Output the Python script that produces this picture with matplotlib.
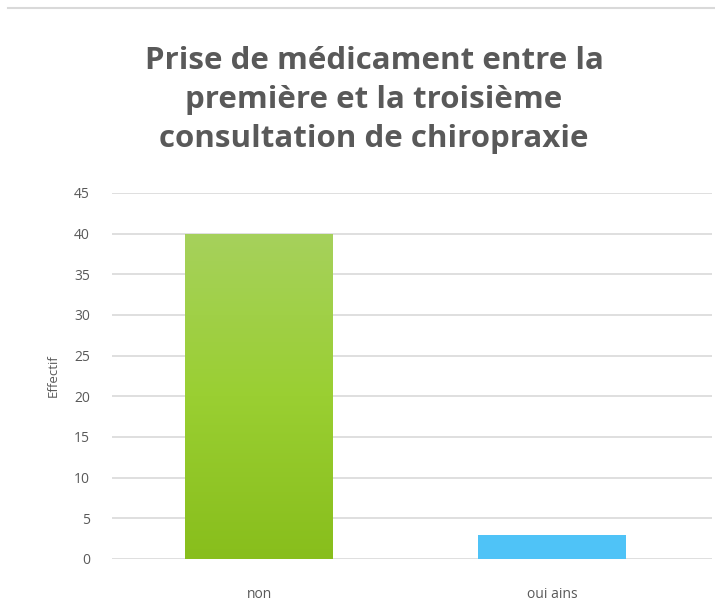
import numpy as np
import matplotlib
matplotlib.use("Agg")
import matplotlib.pyplot as plt
from matplotlib.lines import Line2D
from matplotlib.colors import LinearSegmentedColormap

categories = ["non", "oui ains"]
values = [40, 3]
yticks = [0, 5, 10, 15, 20, 25, 30, 35, 40, 45]
title = "Prise de médicament entre la\npremière et la troisième\nconsultation de chiropraxie"

txtgray = '#595959'
gridgray = '#d9d9d9'
blue = '#4fc3f7'

plt.rcParams['font.family'] = ['Open Sans', 'DejaVu Sans']

fig = plt.figure(figsize=(7.15, 6.15), dpi=100)
ax = fig.add_axes([112/715, 56/615, 600/715, 366/615])

x = np.arange(len(categories))
bars = ax.bar(x, values, width=0.505, color=['#97c82a', blue], zorder=2)

# gradient for first bar
green_cmap = LinearSegmentedColormap.from_list('g', ['#88be1c', '#9acf32', '#a6d15c'])
b = bars[0]
grad = np.linspace(0, 1, 256).reshape(-1, 1)
im = ax.imshow(grad, cmap=green_cmap, origin='lower', aspect='auto',
               extent=[b.get_x(), b.get_x() + b.get_width(), 0, b.get_height()], zorder=3)
im.set_clip_path(b)

ax.set_xlim(-0.502, 1.546)
ax.set_ylim(0, 45)
ax.set_yticks(yticks)
ax.set_xticks(x)
ax.set_xticklabels(categories)
ax.yaxis.grid(True, color=gridgray, linewidth=1.2, zorder=0)
ax.set_axisbelow(True)
for s in ax.spines.values():
    s.set_visible(False)
ax.tick_params(length=0, colors=txtgray, labelsize=10)
ax.tick_params(axis='y', pad=16)
ax.tick_params(axis='x', pad=20)
ax.set_ylabel("Effectif", color=txtgray, fontsize=9.5, labelpad=10)

fig.text(0.523, 0.837, title, ha='center', va='center', fontsize=22.5, fontweight='bold',
         color=txtgray, linespacing=1.4)

fig.add_artist(Line2D([8/715, 1], [1 - 8/615, 1 - 8/615], color='#d9d9d9', linewidth=1.5))

fig.savefig("out.png", dpi=100)
